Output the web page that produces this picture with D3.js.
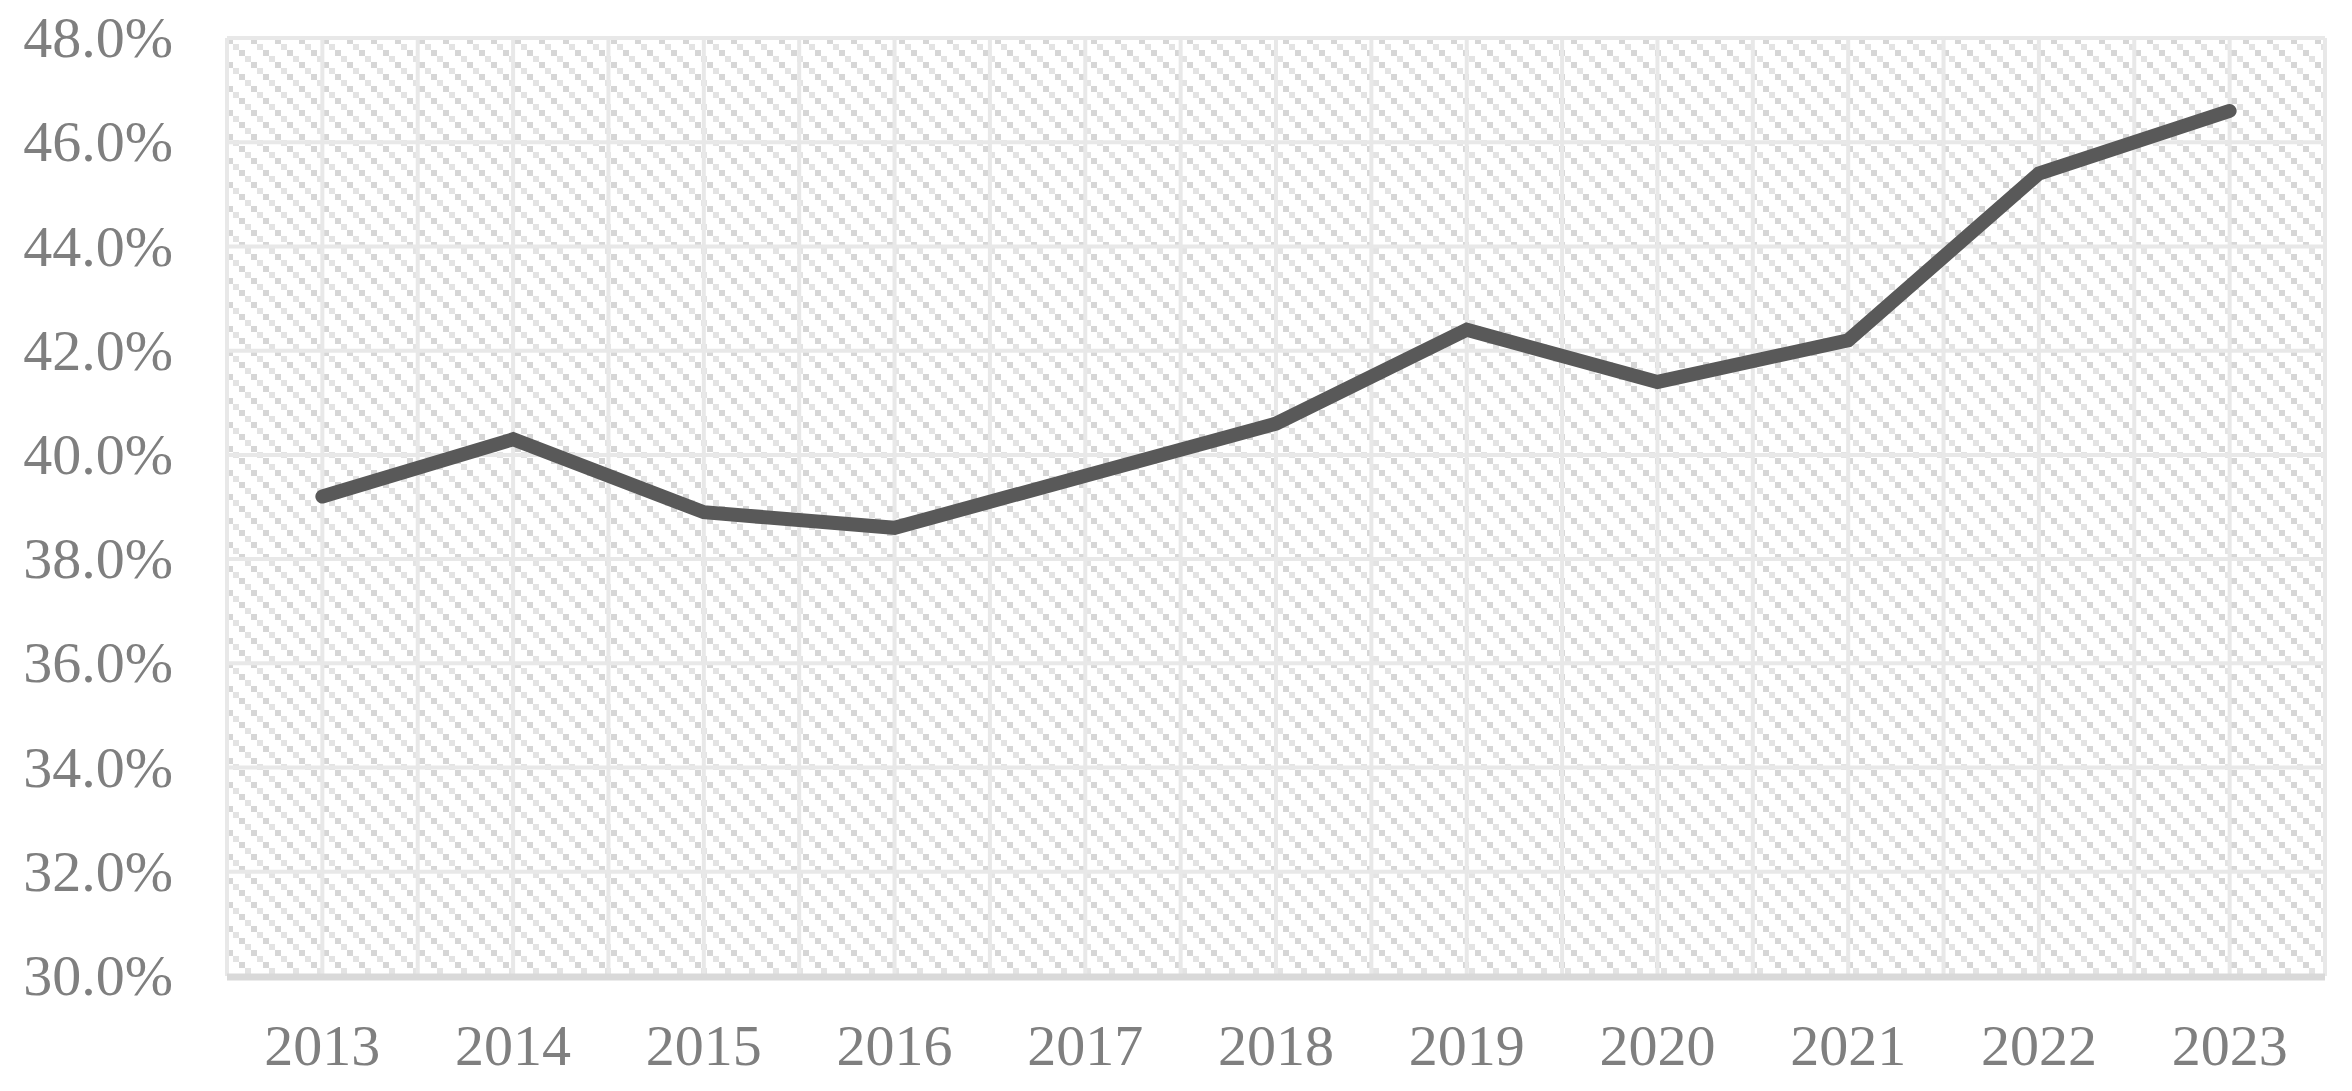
<!DOCTYPE html>
<html>
<head>
<meta charset="utf-8">
<script src="https://cdn.jsdelivr.net/npm/d3@7"></script>
<style>
  html, body { margin: 0; padding: 0; background: #ffffff; }
  svg { display: block; }
</style>
</head>
<body>
<svg id="chart" width="2352" height="1091"></svg>
<script>
// ---- data ----
const years = ["2013","2014","2015","2016","2017","2018","2019","2020","2021","2022","2023"];
const values = [39.2, 40.3, 38.9, 38.6, 39.6, 40.6, 42.4, 41.4, 42.2, 45.4, 46.6];
const yTicks = [30, 32, 34, 36, 38, 40, 42, 44, 46, 48];

// ---- layout ----
const W = 2352, H = 1091;
const plot = { left: 227, right: 2325, top: 38, bottom: 976 };

const svg = d3.select("#chart");

const x = d3.scaleBand().domain(years).range([plot.left, plot.right]).padding(0);
const y = d3.scaleLinear().domain([30, 48]).range([plot.bottom, plot.top]);

// ---- hatch pattern ----
const defs = svg.append("defs");
const tile = 24, sq = 6;
const pat = defs.append("pattern")
  .attr("id", "hatch")
  .attr("patternUnits", "userSpaceOnUse")
  .attr("x", plot.left).attr("y", plot.top)
  .attr("width", tile).attr("height", tile);
pat.append("rect").attr("width", tile).attr("height", tile).attr("fill", "#ffffff");
d3.range(tile / sq).forEach(i => {
  pat.append("rect")
    .attr("x", i * sq).attr("y", i * sq)
    .attr("width", sq).attr("height", sq)
    .attr("fill", i % 2 === 0 ? "#d6d6d6" : "#e3e3e3");
});

svg.append("rect")
  .attr("x", plot.left).attr("y", plot.top)
  .attr("width", plot.right - plot.left).attr("height", plot.bottom - plot.top)
  .attr("fill", "url(#hatch)");

// ---- gridlines ----
const grid = svg.append("g").attr("stroke", "#e8e8e8").attr("stroke-width", 4);
grid.selectAll("line.h").data(yTicks.filter(t => t !== 30)).enter().append("line")
  .attr("class", "h")
  .attr("x1", plot.left).attr("x2", plot.right)
  .attr("y1", d => y(d)).attr("y2", d => y(d));

const half = x.step() / 2;
const vPos = d3.range(0, years.length * 2 + 1).map(k => plot.left + k * half);
grid.selectAll("line.v").data(vPos).enter().append("line")
  .attr("class", "v")
  .attr("x1", d => d).attr("x2", d => d)
  .attr("y1", plot.top).attr("y2", plot.bottom);

// bottom axis line
svg.append("line")
  .attr("x1", plot.left).attr("x2", plot.right)
  .attr("y1", y(30) + 1).attr("y2", y(30) + 1)
  .attr("stroke", "#d9d9d9").attr("stroke-width", 7);

// ---- axes labels ----
const font = "'Liberation Serif', 'Times New Roman', serif";
const yAxis = svg.append("g")
  .attr("transform", `translate(${plot.left},0)`)
  .call(d3.axisLeft(y).tickValues(yTicks).tickSize(0).tickPadding(54)
    .tickFormat(d => d.toFixed(1) + "%"));
yAxis.select(".domain").remove();
yAxis.selectAll("text")
  .attr("fill", "#7f7f7f")
  .style("font-family", font).style("font-size", "58px");

const xAxis = svg.append("g")
  .attr("transform", `translate(0,${plot.bottom})`)
  .call(d3.axisBottom(x).tickSize(0).tickPadding(48));
xAxis.select(".domain").remove();
xAxis.selectAll("text")
  .attr("fill", "#7f7f7f")
  .style("font-family", font).style("font-size", "58px");

// ---- line ----
const line = d3.line()
  .x((d, i) => x(years[i]) + x.bandwidth() / 2)
  .y(d => y(d));

svg.append("path")
  .datum(values)
  .attr("d", line)
  .attr("fill", "none")
  .attr("stroke", "#595959")
  .attr("stroke-width", 14)
  .attr("stroke-linecap", "round")
  .attr("stroke-linejoin", "miter");
</script>
</body>
</html>
